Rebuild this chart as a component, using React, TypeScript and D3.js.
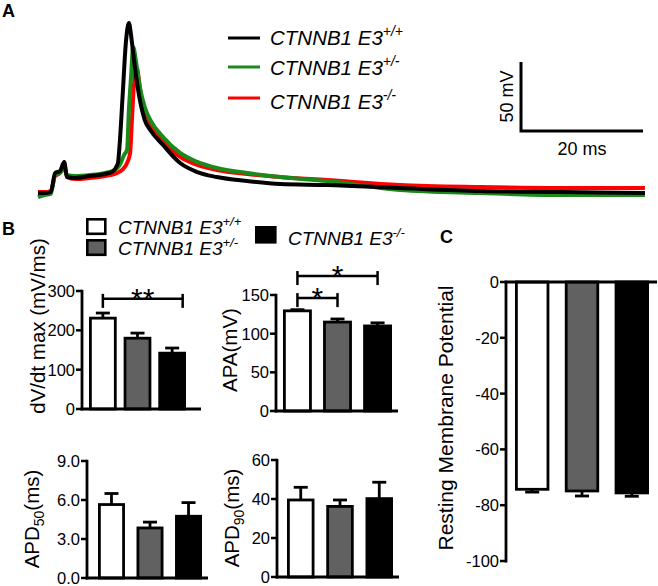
import React from 'react';
import * as d3 from 'd3';

const FONT = "'Liberation Sans', Arial, Helvetica, sans-serif";

// ---------- Panel A: action potential traces (time ms, voltage mV) ----------
const traceWT: [number, number][] = [[0,-75],[1.1,-75],[2.1,-74.3],[2.8,-60.5],[3.6,-59.1],[4.3,-52.5],[4.75,-63.4],[6.1,-64.1],[8.5,-62.7],[11,-61.2],[12.1,-59.8],[13.1,-53.3],[13.4,-38.8],[13.9,-2.5],[14.4,33.7],[14.9,48.2],[15.25,39.5],[15.6,26.4],[16.1,9.1],[16.7,-7.6],[17.5,-22.1],[18.4,-29.3],[20.5,-40.2],[23.3,-53.3],[26.1,-59.8],[29.3,-63.4],[34.3,-66.3],[39.7,-68.5],[47.4,-69.2],[59.3,-71.4],[72.5,-73.6],[85.6,-74.3],[99.5,-75]];
const traceHet: [number, number][] = [[0,-77.9],[1.1,-76.4],[2.1,-75.7],[2.8,-62],[3.6,-60.5],[4.3,-56.9],[4.75,-62],[6.1,-62.7],[8.5,-62],[11,-60.5],[12.6,-58.3],[13.4,-54.7],[14.1,-47.5],[14.6,-43.8],[14.9,-14.9],[15.25,9.1],[15.6,30.8],[16.1,19.2],[16.7,1.8],[17.5,-12.7],[18.4,-22.1],[20.5,-34.4],[23.3,-46],[26.1,-52.5],[29.3,-56.9],[34.3,-60.5],[39.7,-63.4],[47.4,-66.3],[59.3,-72.8],[72.5,-75],[85.6,-76.4],[99.5,-76.4]];
const traceKO: [number, number][] = [[0,-74.3],[1.1,-74.3],[2.1,-73.6],[2.8,-62.7],[3.6,-60.5],[4.3,-54.7],[4.75,-63.4],[6.1,-64.9],[8.5,-64.1],[11,-62.7],[12.6,-61.2],[13.8,-58.3],[14.6,-53.3],[15.1,-46],[15.4,-22.1],[15.7,1.8],[16.2,15.6],[16.6,4.7],[17.05,-9.8],[17.7,-17],[18.4,-24.3],[20.5,-37.3],[23.3,-48.9],[26.1,-54.7],[29.3,-58.3],[34.3,-61.2],[39.7,-63.4],[47.4,-65.6],[59.3,-69.2],[72.5,-70.7],[85.6,-71.4],[99.5,-71.4]];
const traceColors = ['#000000', '#1a8a1a', '#ff0000'];
const genotypeSup = ['+/+', '+/-', '-/-'];
const genePrefix = 'CTNNB1 E3';
const scaleBarMs = 20;
const scaleBarMv = 50;

// ---------- Panel B / C: bar data ----------
const groups = ['WT', 'HET', 'KO'];
const groupFills = ['#ffffff', '#616161', '#000000'];
const dvdtMean = [231, 180, 142];
const dvdtErr = [13, 13, 13];
const dvdtTicks = [0, 100, 200, 300];
const apaMean = [129.5, 115, 110];
const apaErr = [1.5, 4, 4];
const apaTicks = [0, 50, 100, 150];
const apd50Mean = [5.65, 3.85, 4.75];
const apd50Err = [0.85, 0.45, 1.05];
const apd50Ticks = [0, 3, 6, 9];
const apd90Mean = [39.5, 36.2, 40.2];
const apd90Err = [6.5, 3.3, 8.4];
const apd90Ticks = [0, 20, 40, 60];
const rmpMean = [-74.3, -74.9, -75.6];
const rmpErr = [1.0, 1.8, 1.2];
const rmpTicks = [-100, -80, -60, -40, -20, 0];

type Bracket = { g1: number; f1: number; g2: number; f2: number; value: number; label: string };
const dvdtBrackets: Bracket[] = [{ g1: 0, f1: 0.5, g2: 2, f2: 0.88, value: 280, label: '**' }];
const apaBrackets: Bracket[] = [
  { g1: 0, f1: 0.5, g2: 2, f2: 0.5, value: 174.5, label: '*' },
  { g1: 0, f1: 0.5, g2: 1, f2: 0.5, value: 146, label: '*' },
];

type BarProps = {
  means: number[];
  errs: number[];
  domain: [number, number];
  yRange: [number, number];
  axisX: number;
  axisEnd: number;
  bars: [number, number];
  padInner: number;
  ticks: number[];
  fmt: (n: number) => string;
  label: React.ReactNode;
  labelX: number;
  labelY: number;
  labelSize: number;
  brackets?: Bracket[];
};

function BarChart(p: BarProps) {
  const y = d3.scaleLinear().domain(p.domain).range(p.yRange);
  const x = d3.scaleBand<string>().domain(groups).range(p.bars).paddingInner(p.padInner).paddingOuter(0);
  const bw = x.bandwidth();
  const sw = 2.8;
  const base = y(0);
  const yTop = Math.min(y(p.domain[0]), y(p.domain[1]));
  const yBot = Math.max(y(p.domain[0]), y(p.domain[1]));
  return (
    <g>
      {groups.map((g, i) => {
        const m = p.means[i];
        const y1 = Math.min(base, y(m));
        const h = Math.abs(base - y(m));
        const ex = (x(g) as number) + bw / 2;
        const sign = m >= 0 ? 1 : -1;
        const ye = y(m + sign * p.errs[i]);
        return (
          <g key={g}>
            <line x1={ex} x2={ex} y1={y(m)} y2={ye} stroke="#000" strokeWidth={sw} />
            <line x1={ex - 7} x2={ex + 7} y1={ye} y2={ye} stroke="#000" strokeWidth={sw} />
            <rect x={(x(g) as number) + sw / 2} y={y1} width={bw - sw} height={h} fill={groupFills[i]} stroke="#000" strokeWidth={sw} />
          </g>
        );
      })}
      <line x1={p.axisX} x2={p.axisX} y1={yTop - 1.2} y2={yBot + 1.4} stroke="#000" strokeWidth={2.8} />
      <line x1={p.axisX - 1.4} x2={p.axisEnd} y1={base} y2={base} stroke="#000" strokeWidth={2.8} />
      {p.ticks.map((t) => (
        <g key={t}>
          <line x1={p.axisX - 6} x2={p.axisX} y1={y(t)} y2={y(t)} stroke="#000" strokeWidth={2.5} />
          <text x={p.axisX - 7} y={y(t)} dy="0.36em" textAnchor="end" fontSize={16.5} fontFamily={FONT} fill="#000">
            {p.fmt(t)}
          </text>
        </g>
      ))}
      {(p.brackets || []).map((b, i) => {
        const xa = (x(groups[b.g1]) as number) + bw * b.f1;
        const xb = (x(groups[b.g2]) as number) + bw * b.f2;
        const yy = y(b.value);
        return (
          <g key={i}>
            <line x1={xa} x2={xb} y1={yy} y2={yy} stroke="#000" strokeWidth={2.5} />
            <line x1={xa} x2={xa} y1={yy - 5} y2={yy + 9} stroke="#000" strokeWidth={2.5} />
            <line x1={xb} x2={xb} y1={yy - 5} y2={yy + 9} stroke="#000" strokeWidth={2.5} />
            <text x={(xa + xb) / 2} y={yy + 10} textAnchor="middle" fontSize={30} fontFamily={FONT} fill="#000">
              {b.label}
            </text>
          </g>
        );
      })}
      <text transform={`translate(${p.labelX},${p.labelY}) rotate(-90)`} textAnchor="middle" fontSize={p.labelSize} fontFamily={FONT} fill="#000">
        {p.label}
      </text>
    </g>
  );
}

function GeneLabel({ x, y, i, size, supSize, supDy }: { x: number; y: number; i: number; size: number; supSize: number; supDy: number }) {
  return (
    <text x={x} y={y} fontSize={size} fontStyle="italic" fontFamily={FONT} fill="#000">
      {genePrefix}
      <tspan dy={-supDy} fontSize={supSize}>{genotypeSup[i]}</tspan>
    </text>
  );
}

export default function App() {
  const tx = d3.scaleLinear().domain([0, 20]).range([38, 160]);
  const vy = d3.scaleLinear().domain([-75, -25]).range([193, 124]);
  const line = d3
    .line<[number, number]>()
    .x((d) => tx(d[0]))
    .y((d) => vy(d[1]))
    .curve(d3.curveMonotoneX);
  const traces = [traceKO, traceHet, traceWT];
  const traceCol = [traceColors[2], traceColors[1], traceColors[0]];

  // scale bar corner
  const sbX = 521;
  const sbY = 131;
  const sbW = tx(scaleBarMs) - tx(0);
  const sbH = vy(-75) - vy(-75 + scaleBarMv);

  const legendLineY = [38, 67, 98];
  const legendTextY = [45, 75, 109];

  return (
    <svg width={658} height={586} style={{ position: 'absolute', left: 0, top: 0, background: '#fff' }}>
      <rect width={658} height={586} fill="#fff" />
      {/* Panel A */}
      <text x={2} y={17} fontSize={18} fontWeight="bold" fontFamily={FONT}>A</text>
      {traces.map((t, i) => (
        <path key={i} d={line(t) || ''} fill="none" stroke={traceCol[i]} strokeWidth={4} strokeLinejoin="round" />
      ))}
      {traceColors.map((c, i) => (
        <g key={i}>
          <line x1={228} x2={260} y1={legendLineY[i]} y2={legendLineY[i]} stroke={c} strokeWidth={3} />
          <GeneLabel x={270} y={legendTextY[i]} i={i} size={20.5} supSize={14} supDy={9} />
        </g>
      ))}
      <path d={`M${sbX},${sbY - sbH}V${sbY}H${sbX + sbW}`} fill="none" stroke="#000" strokeWidth={3} />
      <text transform={`translate(${sbX - 8},${sbY - sbH / 2}) rotate(-90)`} textAnchor="middle" fontSize={18} fontFamily={FONT}>
        {scaleBarMv} mV
      </text>
      <text x={sbX + sbW / 2} y={155} textAnchor="middle" fontSize={18} fontFamily={FONT}>
        {scaleBarMs} ms
      </text>

      {/* Panel B */}
      <text x={2} y={235} fontSize={18} fontWeight="bold" fontFamily={FONT}>B</text>
      <rect x={87.3} y={219.3} width={18} height={14.5} fill={groupFills[0]} stroke="#000" strokeWidth={2.6} />
      <GeneLabel x={118} y={234} i={0} size={19} supSize={13} supDy={8} />
      <rect x={87.3} y={240.3} width={18} height={14.5} fill={groupFills[1]} stroke="#000" strokeWidth={2.6} />
      <GeneLabel x={118} y={255} i={1} size={19} supSize={13} supDy={8} />
      <rect x={256.3} y={227.3} width={19} height={15} fill={groupFills[2]} stroke="#000" strokeWidth={2.6} />
      <GeneLabel x={288} y={245} i={2} size={19} supSize={13} supDy={8} />

      <BarChart
        means={dvdtMean} errs={dvdtErr} domain={[0, 300]} yRange={[409, 291]}
        axisX={82} axisEnd={201} bars={[89, 186]} padInner={0.2}
        ticks={dvdtTicks} fmt={(n) => String(n)}
        label="dV/dt max (mV/ms)" labelX={45} labelY={326} labelSize={20.5}
        brackets={dvdtBrackets}
      />
      <BarChart
        means={apaMean} errs={apaErr} domain={[0, 150]} yRange={[411, 295]}
        axisX={276} axisEnd={398} bars={[283, 392]} padInner={0.28}
        ticks={apaTicks} fmt={(n) => String(n)}
        label="APA(mV)" labelX={237} labelY={350} labelSize={20.5}
        brackets={apaBrackets}
      />
      <BarChart
        means={apd50Mean} errs={apd50Err} domain={[0, 9]} yRange={[578, 461]}
        axisX={87} axisEnd={208} bars={[98, 202]} padInner={0.3}
        ticks={apd50Ticks} fmt={d3.format('.1f')}
        label={<>APD<tspan dy={5} fontSize={14}>50</tspan><tspan dy={-5}>(ms)</tspan></>}
        labelX={39} labelY={519} labelSize={20.5}
      />
      <BarChart
        means={apd90Mean} errs={apd90Err} domain={[0, 60]} yRange={[577, 460]}
        axisX={277} axisEnd={399} bars={[287, 393]} padInner={0.3}
        ticks={apd90Ticks} fmt={(n) => String(n)}
        label={<>APD<tspan dy={5} fontSize={14}>90</tspan><tspan dy={-5}>(ms)</tspan></>}
        labelX={239} labelY={518} labelSize={20.5}
      />

      {/* Panel C */}
      <text x={440} y={243} fontSize={18} fontWeight="bold" fontFamily={FONT}>C</text>
      <BarChart
        means={rmpMean} errs={rmpErr} domain={[-100, 0]} yRange={[561, 282]}
        axisX={506} axisEnd={657} bars={[515, 649]} padInner={0.31}
        ticks={rmpTicks} fmt={(n) => String(n)}
        label="Resting Membrane Potential" labelX={453} labelY={418} labelSize={21}
      />
    </svg>
  );
}
